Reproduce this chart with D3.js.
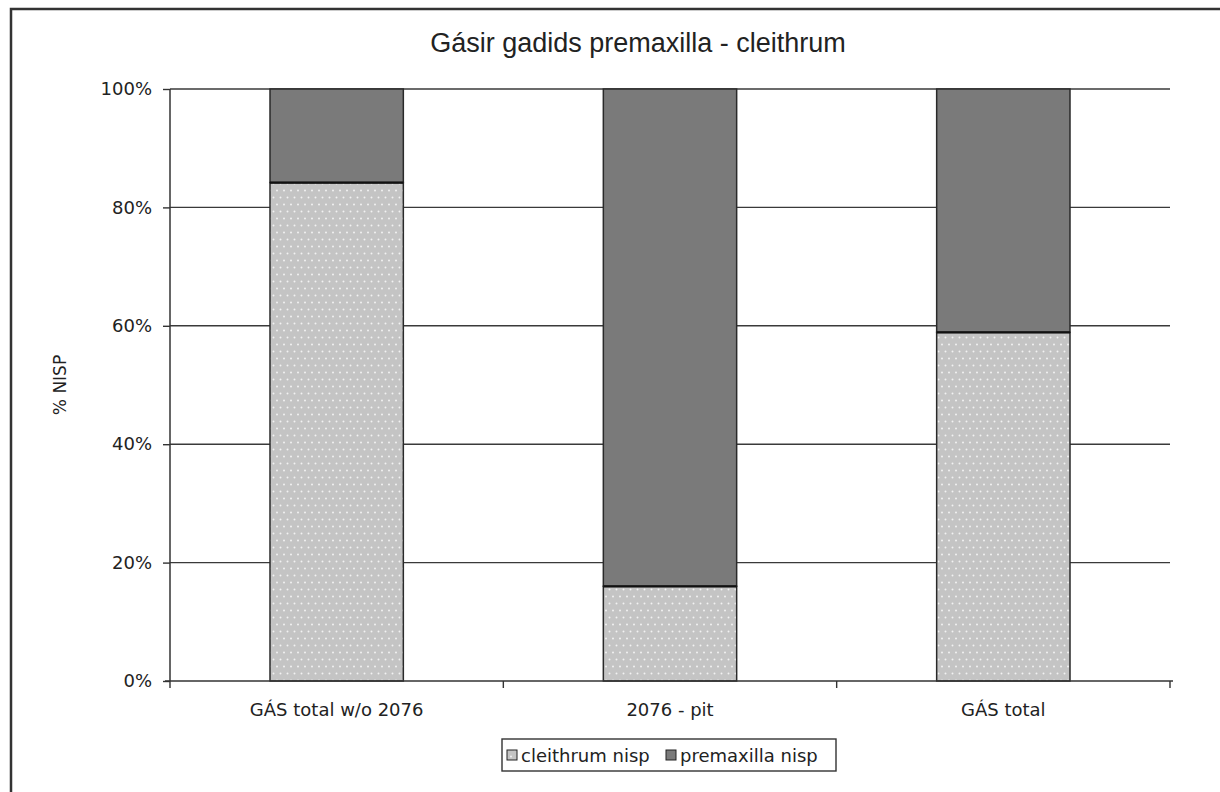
<!DOCTYPE html>
<html>
<head>
<meta charset="utf-8">
<script src="https://cdn.jsdelivr.net/npm/d3@7"></script>
<style>
  body { margin: 0; background: #fff; }
  svg { display: block; }
</style>
</head>
<body>
<svg id="chart" width="1220" height="792"></svg>
<script>
// data (% NISP)
const categories = ["GÁS total w/o 2076", "2076 - pit", "GÁS total"];
const cleithrum  = [84.2, 16.0, 58.9];
const premaxilla = [15.8, 84.0, 41.1];
const seriesNames = ["cleithrum nisp", "premaxilla nisp"];
const yTicks = [0, 20, 40, 60, 80, 100];

const svg = d3.select("#chart");
const margin = { top: 89, right: 50, bottom: 111, left: 170 };
const W = 1220 - margin.left - margin.right;
const H = 792 - margin.top - margin.bottom;
const font = "DejaVu Sans, Verdana, sans-serif";

// dotted fill for the cleithrum segments
const defs = svg.append("defs");
const pat = defs.append("pattern")
  .attr("id", "dots")
  .attr("patternUnits", "userSpaceOnUse")
  .attr("width", 7).attr("height", 14);
pat.append("rect").attr("width", 7).attr("height", 14).attr("fill", "#c4c4c4");
pat.append("circle").attr("cx", 2).attr("cy", 3.5).attr("r", 1).attr("fill", "#f2f2f2");
pat.append("circle").attr("cx", 5.5).attr("cy", 10.5).attr("r", 1).attr("fill", "#f2f2f2");

// outer frame
svg.append("path")
  .attr("d", "M11,792 V9 H1220")
  .attr("fill", "none").attr("stroke", "#333").attr("stroke-width", 2.5);

// title
svg.append("text")
  .attr("x", 638).attr("y", 52)
  .attr("text-anchor", "middle")
  .style("font-family", "Liberation Sans, Arial, sans-serif")
  .style("font-size", "27px")
  .attr("fill", "#222")
  .text("Gásir gadids premaxilla - cleithrum");

const g = svg.append("g").attr("transform", `translate(${margin.left},${margin.top})`);

const x = d3.scaleBand().domain(categories).range([0, W]).paddingInner(0.6).paddingOuter(0.3);
const xb = d3.scaleBand().domain(categories).range([0, W]);
const y = d3.scaleLinear().domain([0, 100]).range([H, 0]);

// gridlines
g.append("g")
  .selectAll("line")
  .data(yTicks.filter(t => t > 0))
  .join("line")
    .attr("x1", 0).attr("x2", W)
    .attr("y1", d => y(d)).attr("y2", d => y(d))
    .attr("stroke", "#3a3a3a").attr("stroke-width", 1.4);

// stacked bars
const rows = categories.map((c, i) => ({ cat: c, cleithrum: cleithrum[i], premaxilla: premaxilla[i] }));
const stack = d3.stack().keys(["cleithrum", "premaxilla"])(rows);
const fills = { cleithrum: "url(#dots)", premaxilla: "#7a7a7a" };

stack.forEach(layer => {
  g.append("g")
    .selectAll("rect")
    .data(layer)
    .join("rect")
      .attr("x", d => x(d.data.cat))
      .attr("width", x.bandwidth())
      .attr("y", d => y(d[1]))
      .attr("height", d => y(d[0]) - y(d[1]))
      .attr("fill", fills[layer.key])
      .attr("stroke", "#2a2a2a")
      .attr("stroke-width", 1.5);
});

// darker line where the two segments meet
g.append("g")
  .selectAll("line")
  .data(stack[0])
  .join("line")
    .attr("x1", d => x(d.data.cat)).attr("x2", d => x(d.data.cat) + x.bandwidth())
    .attr("y1", d => y(d[1])).attr("y2", d => y(d[1]))
    .attr("stroke", "#111").attr("stroke-width", 2.2);

// axes
const yAxis = g.append("g")
  .call(d3.axisLeft(y).tickValues(yTicks).tickFormat(d => d + "%").tickSize(7).tickPadding(11));
const xAxis = g.append("g")
  .attr("transform", `translate(0,${H})`)
  .call(d3.axisBottom(xb).tickSize(0));

[yAxis, xAxis].forEach(a => {
  a.select(".domain").attr("stroke", "#333").attr("stroke-width", 1.5);
  a.selectAll("line").attr("stroke", "#333").attr("stroke-width", 1.4);
  a.selectAll("text")
    .style("font-family", font)
    .style("font-size", "18px")
    .attr("fill", "#222");
});
xAxis.selectAll("text").attr("y", 35).attr("dy", 0);
yAxis.select(".domain").attr("d", `M0,${H}V0`);
xAxis.select(".domain").attr("d", `M-5,0H${W + 3}`);

// x tick marks at category boundaries
g.append("g")
  .selectAll("line")
  .data(d3.range(categories.length + 1))
  .join("line")
    .attr("x1", i => i * xb.step()).attr("x2", i => i * xb.step())
    .attr("y1", H).attr("y2", H + 7)
    .attr("stroke", "#333").attr("stroke-width", 1.4);

// y axis title
svg.append("text")
  .attr("transform", "translate(66,385) rotate(-90)")
  .attr("text-anchor", "middle")
  .style("font-family", font)
  .style("font-size", "17px")
  .attr("fill", "#222")
  .text("% NISP");

// legend
const lg = svg.append("g").attr("transform", "translate(502,739)");
lg.append("rect")
  .attr("width", 334).attr("height", 32)
  .attr("fill", "#fff").attr("stroke", "#333").attr("stroke-width", 1.4);
const items = [
  { name: seriesNames[0], fill: "url(#dots)", x: 5 },
  { name: seriesNames[1], fill: "#7a7a7a", x: 164 }
];
items.forEach(it => {
  lg.append("rect")
    .attr("x", it.x).attr("y", 11).attr("width", 10).attr("height", 10)
    .attr("fill", it.fill).attr("stroke", "#222").attr("stroke-width", 1);
  lg.append("text")
    .attr("x", it.x + 14).attr("y", 23)
    .style("font-family", font)
    .style("font-size", "18px")
    .attr("fill", "#222")
    .text(it.name);
});
</script>
</body>
</html>
